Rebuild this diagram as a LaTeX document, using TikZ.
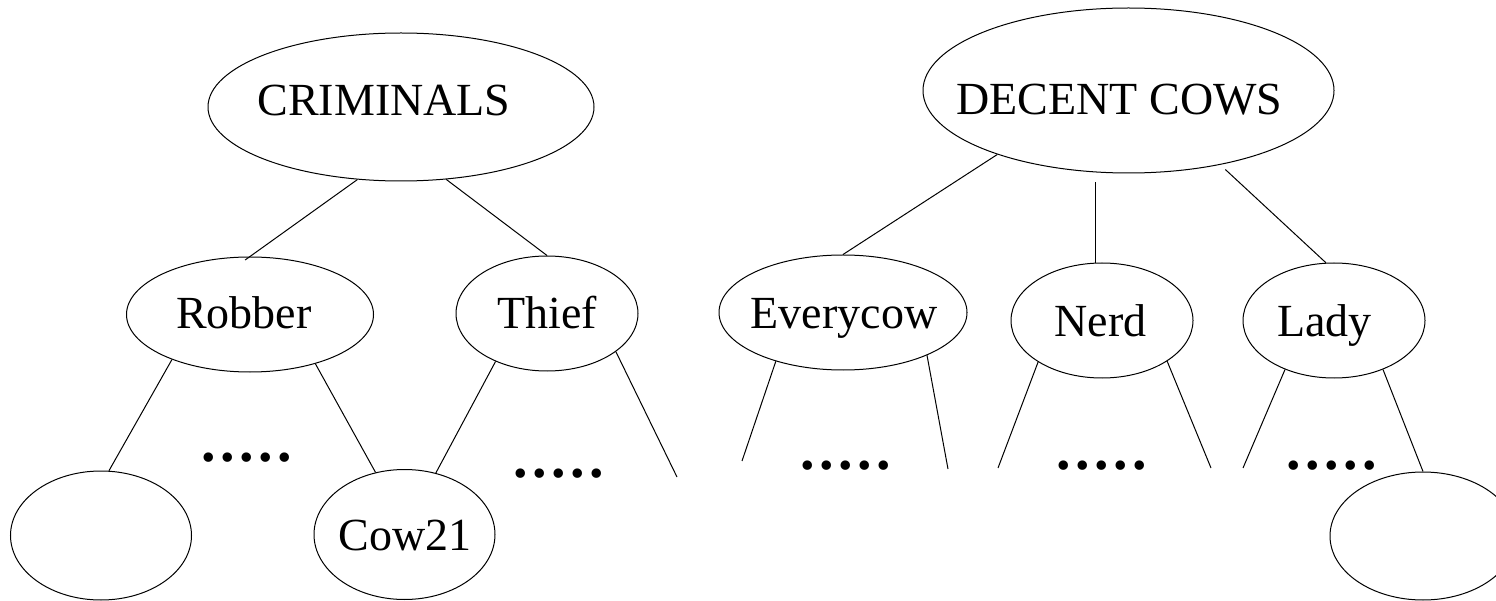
\documentclass[tikz,border=0pt]{standalone}
\usepackage{fontspec}
\setmainfont{Liberation Serif}
\usetikzlibrary{shapes.geometric}
\begin{document}
\begin{tikzpicture}[x=1pt,y=-1pt,line width=1pt,
  oval/.style={draw,ellipse,inner sep=0pt},
  lbl/.style={anchor=base,inner sep=0pt,font=\fontsize{46}{50}\selectfont},
  dotrow/.style={anchor=base,inner sep=0pt,font=\fontsize{58}{60}\selectfont\bfseries}]
\clip (0,0) rectangle (1496,601);
\fill[white] (0,0) rectangle (1496,601);
% ellipses
\node[oval,minimum width=386pt,minimum height=148pt] (crim)  at (401,107) {};
\node[oval,minimum width=411pt,minimum height=165pt] (dec)   at (1128.5,90.5) {};
\node[oval,minimum width=247pt,minimum height=115pt] (rob)   at (250,314.5) {};
\node[oval,minimum width=182pt,minimum height=115pt] (thief) at (547,313.5) {};
\node[oval,minimum width=248pt,minimum height=115pt] (evc)   at (843,312.5) {};
\node[oval,minimum width=182pt,minimum height=115pt] (nerd)  at (1102,320.5) {};
\node[oval,minimum width=182pt,minimum height=115pt] (lady)  at (1334,320.5) {};
\node[oval,minimum width=181pt,minimum height=129pt] (bl)    at (101,535.5) {};
\node[oval,minimum width=181pt,minimum height=130pt] (cow)   at (404.5,534.5) {};
\node[oval,minimum width=186pt,minimum height=128pt] (br)    at (1423,536) {};
% labels
\node[lbl] (tcrim)  at (384,116)    {CRIMINALS};
\node[lbl] (tdec)   at (1119.5,115) {DECENT COWS};
\node[lbl] (trob)   at (244,329)    {Robber};
\node[lbl] (tthief) at (547,329)    {Thief};
\node[lbl] (tevc)   at (844,329)    {Everycow};
\node[lbl] (tnerd)  at (1100.5,337) {Nerd};
\node[lbl] (tlady)  at (1324.5,337) {Lady};
\node[lbl] (tcow)   at (405,550)    {Cow21};
% dot rows
\node[dotrow] (d1) at (247,461)    {.\kern4.5pt.\kern4.5pt.\kern4.5pt.\kern4.5pt.};
\node[dotrow] (d2) at (559,477)    {.\kern4.5pt.\kern4.5pt.\kern4.5pt.\kern4.5pt.};
\node[dotrow] (d3) at (845.5,469)  {.\kern4.5pt.\kern4.5pt.\kern4.5pt.\kern4.5pt.};
\node[dotrow] (d4) at (1102,469)   {.\kern4.5pt.\kern4.5pt.\kern4.5pt.\kern4.5pt.};
\node[dotrow] (d5) at (1332,469)   {.\kern4.5pt.\kern4.5pt.\kern4.5pt.\kern4.5pt.};
% free ends
\coordinate (tR) at (677,477);
\coordinate (eL) at (742,461);
\coordinate (eR) at (948,469);
\coordinate (nL) at (998,468);
\coordinate (nR) at (1211,468);
\coordinate (lL) at (1243,468);
% connectors
\draw[shorten >=-6pt] (crim.239.6) -- (rob.north);
\draw (crim.-58.5) -- (thief.north);
\draw (dec.206.8) -- (evc.north);
\draw[shorten >=9pt] (nerd.96) -- (nerd.96 |- dec.south);
\draw[shorten <=7pt] (dec.-39.3) -- (lady.98);
\draw (rob.210.3) -- (bl.83);
\draw (rob.-37.7) -- (cow.115.7);
\draw (thief.223.6) -- (cow.63.3);
\draw (thief.-29.4) -- (tR);
\draw (evc.216.1) -- (eL);
\draw (evc.-27.1) -- (eR);
\draw (nerd.213.6) -- (nL);
\draw (nerd.-32) -- (nR);
\draw (lady.225.3) -- (lL);
\draw (lady.-45.3) -- (br.north);
\end{tikzpicture}
\end{document}
